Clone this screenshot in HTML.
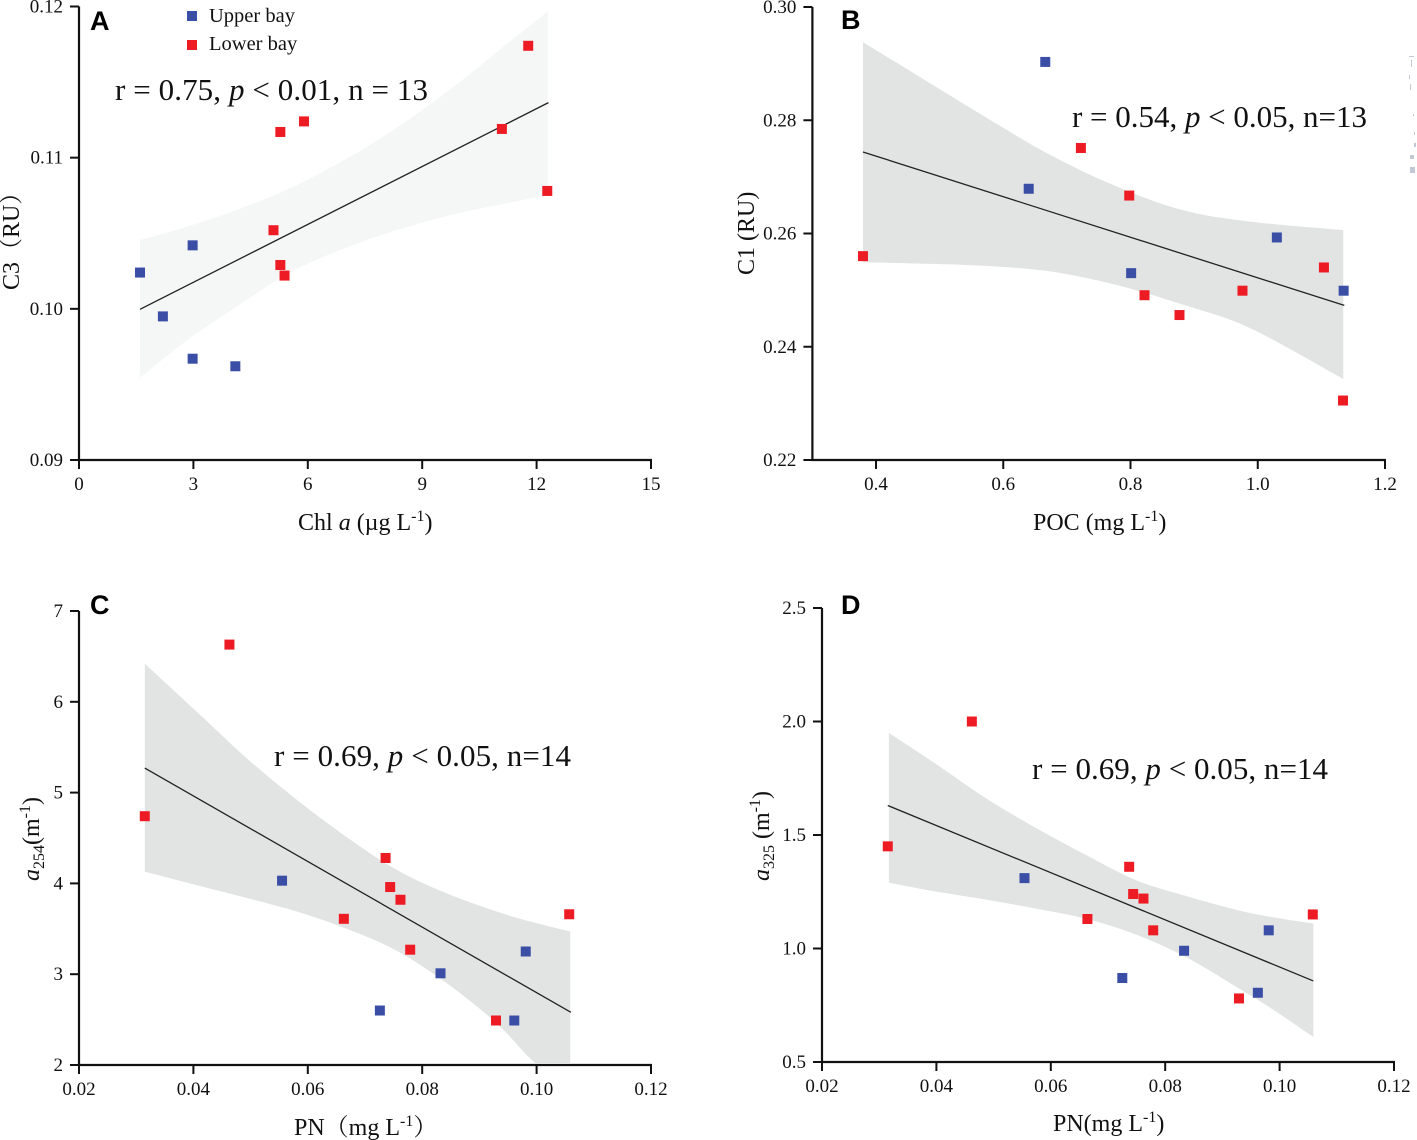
<!DOCTYPE html>
<html lang="en">
<head>
<meta charset="utf-8">
<title>Scatter plots with regression bands</title>
<style>
html,body{margin:0;padding:0;background:#fff;width:1417px;height:1140px;overflow:hidden}
svg{display:block}
text{font-family:"Liberation Serif","Noto Serif CJK SC",serif;fill:#111}
.tick{font-size:19px}
.title{font-size:24px}
.stat{font-size:31px}
.legend{font-size:20.5px}
.letter{font-family:"Liberation Sans",sans-serif;font-weight:bold;font-size:27px;fill:#000}
</style>
</head>
<body>
<svg id="figure" xmlns="http://www.w3.org/2000/svg" width="1417" height="1140" viewBox="0 0 1417 1140">
  <g id="panel-a"></g>
  <g id="panel-b"></g>
  <g id="panel-c"></g>
  <g id="panel-d"></g>

  <text class="letter" x="90" y="30">A</text>
  <text class="letter" x="841" y="29">B</text>
  <text class="letter" x="90" y="614">C</text>
  <text class="letter" x="841" y="614">D</text>

  <g>
    <rect x="187" y="11" width="10" height="10" fill="#3b4ea5"/>
    <text class="legend" x="209" y="22">Upper bay</text>
    <rect x="187" y="40" width="10" height="10" fill="#ed1c24"/>
    <text class="legend" x="209" y="50">Lower bay</text>
  </g>

  <text class="stat" x="115" y="100" textLength="313">r = 0.75, <tspan font-style="italic">p</tspan> &lt; 0.01, n = 13</text>
  <text class="stat" x="1072" y="127" textLength="295">r = 0.54, <tspan font-style="italic">p</tspan> &lt; 0.05, n=13</text>
  <text class="stat" x="274" y="766" textLength="297">r = 0.69, <tspan font-style="italic">p</tspan> &lt; 0.05, n=14</text>
  <text class="stat" x="1032" y="779" textLength="296">r = 0.69, <tspan font-style="italic">p</tspan> &lt; 0.05, n=14</text>

  <text class="title" x="298" y="530">Chl <tspan font-style="italic">a</tspan> (µg L<tspan font-size="16" dy="-9">-1</tspan><tspan dy="9">)</tspan></text>
  <text class="title" x="1033" y="530">POC (mg L<tspan font-size="16" dy="-9">-1</tspan><tspan dy="9">)</tspan></text>
  <text class="title" x="294" y="1135">PN（mg L<tspan font-size="16" dy="-9">-1</tspan><tspan dy="9">）</tspan></text>
  <text class="title" x="1053" y="1131">PN(mg L<tspan font-size="16" dy="-9">-1</tspan><tspan dy="9">)</tspan></text>

  <text class="title" transform="translate(19,290) rotate(-90)">C3（RU）</text>
  <text class="title" transform="translate(754,275) rotate(-90)">C1 (RU)</text>
  <text class="title" transform="translate(39,881) rotate(-90)"><tspan font-style="italic">a</tspan><tspan font-size="16" dy="5">254</tspan><tspan dy="-5">(m</tspan><tspan font-size="16" dy="-9">-1</tspan><tspan dy="9">)</tspan></text>
  <text class="title" transform="translate(769,881) rotate(-90)"><tspan font-style="italic">a</tspan><tspan font-size="16" dy="5">325</tspan><tspan dy="-5"> (m</tspan><tspan font-size="16" dy="-9">-1</tspan><tspan dy="9">)</tspan></text>

  <g fill="#9aa6b8" opacity="0.6">
    <rect x="1409" y="56" width="5" height="1"/>
    <rect x="1411" y="60" width="1" height="7"/>
    <rect x="1409" y="75" width="1" height="4"/>
    <rect x="1410" y="84" width="1" height="6"/>
    <rect x="1413" y="114" width="1" height="2"/>
    <rect x="1414" y="132" width="1" height="3"/>
    <rect x="1414" y="143" width="2" height="4"/>
    <rect x="1410" y="155" width="4" height="4"/>
    <rect x="1410" y="167" width="5" height="6"/>
  </g>
</svg>

<script>
// Panel A
const aXTicks = ['0','3','6','9','12','15'];
const aYTicks = ['0.09','0.10','0.11','0.12'];
const aUpperX = [1.60,2.20,2.98,2.98,4.10];
const aUpperY = [0.1024,0.0995,0.1042,0.0967,0.0962];
const aLowerX = [5.10,5.28,5.90,5.28,5.39,11.09,11.78,12.28];
const aLowerY = [0.1052,0.1117,0.1124,0.1029,0.1022,0.1119,0.1174,0.1078];
const aFitX = [1.60,12.31];
const aFitY = [0.09997,0.11364];
const aBandX = [1.60,2.82,4.13,5.62,7.19,8.50,9.82,11.13,12.29];
const aBandUpper = [0.10455,0.10543,0.10654,0.10808,0.11018,0.11227,0.11469,0.11734,0.11966];
const aBandLower = [0.09545,0.09789,0.10014,0.10252,0.10422,0.10533,0.10625,0.10694,0.10753];

// Panel B
const bXTicks = ['0.4','0.6','0.8','1.0','1.2'];
const bYTicks = ['0.22','0.24','0.26','0.28','0.30'];
const bUpperX = [0.666,0.640,0.801,1.030,1.135];
const bUpperY = [0.2903,0.2679,0.2530,0.2593,0.2499];
const bLowerX = [0.3795,0.722,0.798,0.822,0.877,0.976,1.104,1.134];
const bLowerY = [0.2560,0.2751,0.2667,0.2491,0.2456,0.2499,0.2540,0.2305];
const bFitX = [0.3795,1.136];
const bFitY = [0.2744,0.2473];
const bBandX = [0.3795,0.4639,0.5686,0.6734,0.7783,0.8830,0.9878,1.1344];
const bBandUpper = [0.2938,0.2880,0.2808,0.2739,0.2683,0.2641,0.2621,0.2606];
const bBandLower = [0.2549,0.2547,0.2543,0.2533,0.2509,0.2474,0.2433,0.2343];

// Panel C
const cXTicks = ['0.02','0.04','0.06','0.08','0.10','0.12'];
const cYTicks = ['2','3','4','5','6','7'];
const cUpperX = [0.0555,0.0726,0.0832,0.0981,0.0961];
const cUpperY = [4.03,2.60,3.01,3.25,2.49];
const cLowerX = [0.0315,0.0463,0.0663,0.0736,0.0744,0.0762,0.0779,0.0929,0.1057];
const cLowerY = [4.74,6.63,3.61,4.28,3.96,3.82,3.27,2.49,3.66];
const cFitX = [0.0315,0.1060];
const cFitY = [5.27,2.58];
const cBandX = [0.0315,0.0406,0.0493,0.0581,0.0668,0.0755,0.0843,0.0930,0.0989,0.1059];
const cBandUpper = [6.42,5.89,5.38,4.92,4.51,4.15,3.89,3.69,3.58,3.47];
const cBandLower = [4.13,3.98,3.84,3.69,3.50,3.26,2.90,2.46,2.07,1.69];

// Panel D
const dXTicks = ['0.02','0.04','0.06','0.08','0.10','0.12'];
const dYTicks = ['0.5','1.0','1.5','2.0','2.5'];
const dUpperX = [0.0554,0.0725,0.0833,0.0981,0.0962];
const dUpperY = [1.31,0.87,0.99,1.08,0.805];
const dLowerX = [0.0315,0.0462,0.0664,0.0737,0.0744,0.0762,0.0779,0.0929,0.1058];
const dLowerY = [1.45,2.00,1.13,1.36,1.24,1.22,1.08,0.78,1.15];
const dFitX = [0.0315,0.1059];
const dFitY = [1.63,0.857];
const dBandX = [0.0317,0.0401,0.0488,0.0575,0.0663,0.0750,0.0838,0.0925,0.0983,0.1059];
const dBandUpper = [1.95,1.81,1.66,1.53,1.41,1.30,1.23,1.17,1.14,1.11];
const dBandLower = [1.29,1.25,1.215,1.175,1.13,1.06,0.96,0.83,0.74,0.61];

const NS = 'http://www.w3.org/2000/svg';

function make(parent, tag, attrs) {
  const el = document.createElementNS(NS, tag);
  for (const k in attrs) el.setAttribute(k, attrs[k]);
  parent.appendChild(el);
  return el;
}

// Smooth curve segments (Catmull-Rom) through a list of screen points
function smoothSegments(pts) {
  let out = '';
  for (let i = 0; i < pts.length - 1; i++) {
    const p0 = pts[Math.max(i - 1, 0)];
    const p1 = pts[i];
    const p2 = pts[i + 1];
    const p3 = pts[Math.min(i + 2, pts.length - 1)];
    const c1x = p1[0] + (p2[0] - p0[0]) / 6;
    const c1y = p1[1] + (p2[1] - p0[1]) / 6;
    const c2x = p2[0] - (p3[0] - p1[0]) / 6;
    const c2y = p2[1] - (p3[1] - p1[1]) / 6;
    out += ' C' + c1x.toFixed(1) + ' ' + c1y.toFixed(1) + ' ' + c2x.toFixed(1) + ' ' + c2y.toFixed(1) + ' ' + p2[0].toFixed(1) + ' ' + p2[1].toFixed(1);
  }
  return out;
}

function drawPanel(id, box, dom, d) {
  const root = document.getElementById(id);
  const sx = v => box.left + (v - dom.x0) / (dom.x1 - dom.x0) * (box.right - box.left);
  const sy = v => box.bottom - (v - dom.y0) / (dom.y1 - dom.y0) * (box.bottom - box.top);

  const clip = make(root, 'clipPath', {id: id + '-clip'});
  make(clip, 'rect', {x: box.left, y: 0, width: box.right - box.left + 10, height: box.bottom - 2});

  const upperPts = d.bandX.map((v, i) => [sx(v), sy(d.bandUpper[i])]);
  const lowerPts = d.bandX.map((v, i) => [sx(v), sy(d.bandLower[i])]).reverse();
  const bandPath = 'M' + upperPts[0][0].toFixed(1) + ' ' + upperPts[0][1].toFixed(1) + smoothSegments(upperPts) +
    ' L' + lowerPts[0][0].toFixed(1) + ' ' + lowerPts[0][1].toFixed(1) + smoothSegments(lowerPts) + ' Z';
  const band = make(root, 'path', {d: bandPath, fill: d.bandColor, 'clip-path': 'url(#' + id + '-clip)'});
  
  

  const fit = make(root, 'line', {x1: sx(d.fitX[0]), y1: sy(d.fitY[0]), x2: sx(d.fitX[1]), y2: sy(d.fitY[1]), stroke: '#222', 'stroke-width': 1.3});
  
  

  const axisY = make(root, 'line', {x1: box.left, y1: box.top, x2: box.left, y2: box.bottom + 1, stroke: '#111', 'stroke-width': 2.2});
  
  

  const axisX = make(root, 'line', {x1: box.left - 1, y1: box.bottom, x2: box.right + 1, y2: box.bottom, stroke: '#111', 'stroke-width': 2.2});
  
  

  d.xTicks.forEach(label => {
    const x = sx(Number(label));
    const tick = make(root, 'line', {x1: x, y1: box.bottom, x2: x, y2: box.bottom + 9, stroke: '#111', 'stroke-width': 2});
    
    
    const text = make(root, 'text', {x: x, y: box.bottom + 30, 'text-anchor': 'middle', class: 'tick'});
    text.textContent = label;
    
    
  });

  d.yTicks.forEach(label => {
    const y = sy(Number(label));
    const tick = make(root, 'line', {x1: box.left - 9, y1: y, x2: box.left, y2: y, stroke: '#111', 'stroke-width': 2});
    
    
    const text = make(root, 'text', {x: box.left - 16, y: y + 6, 'text-anchor': 'end', class: 'tick'});
    text.textContent = label;
    
    
  });

  d.upperX.forEach((v, i) => {
    const m = make(root, 'rect', {x: sx(v) - 5, y: sy(d.upperY[i]) - 5, width: 10, height: 10, fill: '#3b4ea5'});
    
    
  });

  d.lowerX.forEach((v, i) => {
    const m = make(root, 'rect', {x: sx(v) - 5, y: sy(d.lowerY[i]) - 5, width: 10, height: 10, fill: '#ed1c24'});
    
    
  });
}

drawPanel('panel-a', {left: 79, right: 651, top: 6.5, bottom: 460}, {x0: 0, x1: 15, y0: 0.09, y1: 0.12}, {
  xTicks: aXTicks, yTicks: aYTicks, upperX: aUpperX, upperY: aUpperY, lowerX: aLowerX, lowerY: aLowerY,
  fitX: aFitX, fitY: aFitY, bandX: aBandX, bandUpper: aBandUpper, bandLower: aBandLower, bandColor: '#f5f6f6'
});
drawPanel('panel-b', {left: 812.4, right: 1385, top: 7, bottom: 460}, {x0: 0.3, x1: 1.2, y0: 0.22, y1: 0.30}, {
  xTicks: bXTicks, yTicks: bYTicks, upperX: bUpperX, upperY: bUpperY, lowerX: bLowerX, lowerY: bLowerY,
  fitX: bFitX, fitY: bFitY, bandX: bBandX, bandUpper: bBandUpper, bandLower: bBandLower, bandColor: '#e2e4e4'
});
drawPanel('panel-c', {left: 79, right: 651, top: 611, bottom: 1065}, {x0: 0.02, x1: 0.12, y0: 2, y1: 7}, {
  xTicks: cXTicks, yTicks: cYTicks, upperX: cUpperX, upperY: cUpperY, lowerX: cLowerX, lowerY: cLowerY,
  fitX: cFitX, fitY: cFitY, bandX: cBandX, bandUpper: cBandUpper, bandLower: cBandLower, bandColor: '#e2e4e4'
});
drawPanel('panel-d', {left: 822, right: 1394, top: 608, bottom: 1062}, {x0: 0.02, x1: 0.12, y0: 0.5, y1: 2.5}, {
  xTicks: dXTicks, yTicks: dYTicks, upperX: dUpperX, upperY: dUpperY, lowerX: dLowerX, lowerY: dLowerY,
  fitX: dFitX, fitY: dFitY, bandX: dBandX, bandUpper: dBandUpper, bandLower: dBandLower, bandColor: '#e2e4e4'
});
</script>
</body>
</html>
